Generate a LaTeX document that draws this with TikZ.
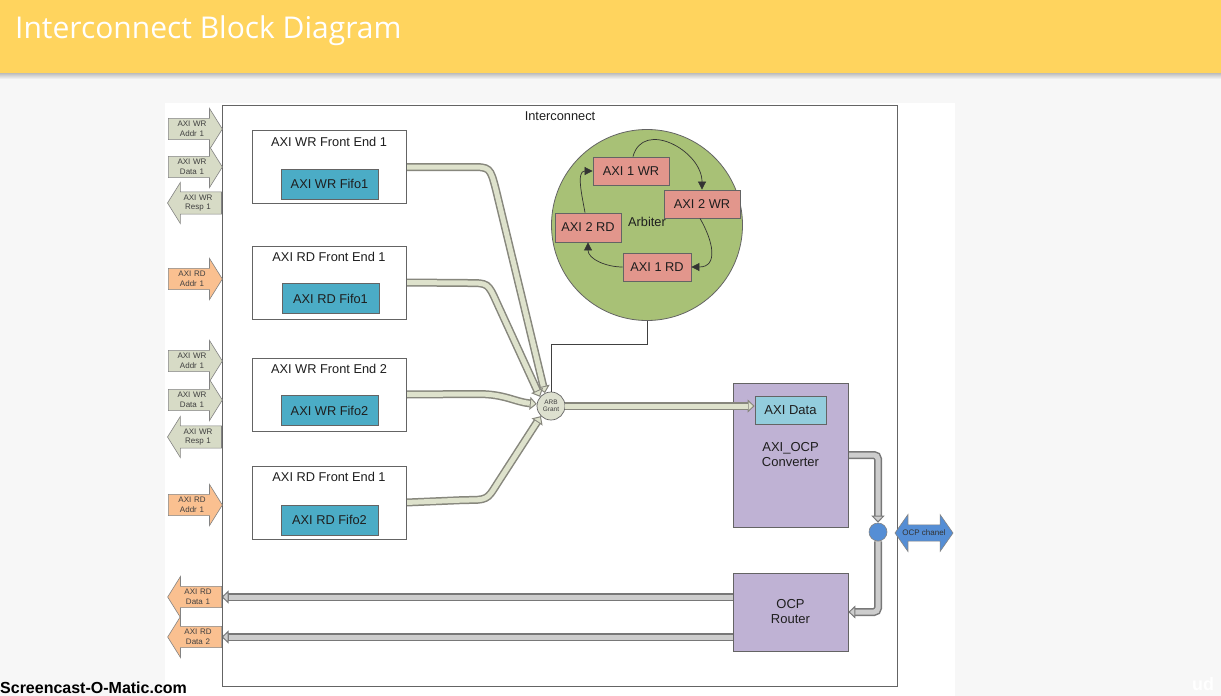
\documentclass[tikz,border=0pt]{standalone}
\usepackage{fontspec}
\setmainfont{Liberation Sans}
\newfontfamily\titlefont{Open Sans}
\usetikzlibrary{arrows.meta,shapes.arrows,calc,backgrounds}
\newcommand\fsz[2]{\fontsize{#1pt}{#2pt}\selectfont}
\definecolor{pagebg}{RGB}{247,247,247}
\definecolor{headerY}{RGB}{255,212,94}
\definecolor{boxline}{RGB}{100,100,100}
\definecolor{fifoC}{RGB}{75,172,198}
\definecolor{arbG}{RGB}{168,193,118}
\definecolor{arbBox}{RGB}{226,150,140}
\definecolor{purpleC}{RGB}{191,178,212}
\definecolor{dataC}{RGB}{147,205,221}
\definecolor{blueC}{RGB}{85,142,213}
\definecolor{arrG}{RGB}{215,219,198}
\definecolor{arrO}{RGB}{250,192,144}
\definecolor{grantC}{RGB}{221,224,207}
\definecolor{fatGin}{RGB}{222,226,204}
\definecolor{fatGout}{RGB}{135,135,125}
\definecolor{fatKin}{RGB}{205,205,205}
\definecolor{fatKout}{RGB}{120,120,120}
\definecolor{txt}{RGB}{30,30,30}
\pgfdeclarelayer{bgzero}
\pgfsetlayers{bgzero,background,main}
\begin{document}
\begin{tikzpicture}[x=1pt,y=-1pt,
  box/.style={draw=boxline, line width=0.8pt, inner sep=0pt, text=txt},
  fe/.style={box, fill=white, minimum width=154pt, minimum height=73pt},
  fifo/.style={box, fill=fifoC, minimum width=97pt, minimum height=30pt, font=\fsz{12.8}{14}},
  lbl/.style={inner sep=0pt, text=txt, font=\fsz{12.8}{14}},
  abox/.style={box, fill=arbBox, minimum height=28pt, font=\fsz{12.8}{14}},
  rarrow/.style={single arrow, draw=boxline!80, line width=0.6pt, fill=arrG,
    minimum height=54pt, minimum width=41pt, single arrow head extend=9.5pt,
    single arrow tip angle=116, inner xsep=1pt, inner ysep=2.5pt,
    text width=36pt, align=center, text=black!75, font=\fsz{8}{9.5}},
  larrow/.style={rarrow, shape border rotate=180},
  orng/.style={fill=arrO},
  arcline/.style={draw=black!80, line width=0.7pt, -{Triangle[length=8pt,width=8pt]}},
  thinline/.style={draw=black!75, line width=0.7pt},
  fatGo/.style={draw=fatGout, line width=8pt},
  fatGi/.style={draw=fatGin, line width=5pt},
  fatKo/.style={draw=fatKout, line width=8pt},
  fatKi/.style={draw=fatKin, line width=5pt},
  tipG/.style={-{Triangle[width=13pt,length=7pt,fill=fatGin,line width=1pt]}},
  tipK/.style={-{Triangle[width=13pt,length=7pt,fill=fatKin,line width=1pt]}},
  shin/.style={shorten >=7pt}
]
\useasboundingbox (0,0) rectangle (1221,696);
\begin{pgfonlayer}{bgzero}
  \fill[pagebg] (0,0) rectangle (1221,696);
  \fill[white] (165,103) rectangle (955,696);
  \fill[top color=black!30, bottom color=pagebg] (0,72) rectangle (1221,79);
  \fill[headerY] (0,0) rectangle (1221,73);
\end{pgfonlayer}
\node[anchor=base west, inner sep=0pt, text=white, font=\titlefont\fsz{30}{32}] (title) at (15,38) {Interconnect Block Diagram};

% interconnect frame
\node[box, minimum width=675pt, minimum height=581pt] (ic) at (559.5,395.5) {};
\node[lbl] (iclabel) at (560,116) {Interconnect};

% front ends
\node[fe] (fe1) at (329,167) {};
\node[lbl] (fe1t) at ($(fe1.north)+(0,11.5)$) {AXI WR Front End 1};
\node[fifo] (ff1) at (329.5,184) {AXI WR Fifo1};
\node[fe] (fe2) at (329,282.5) {};
\node[lbl] (fe2t) at ($(fe2.north)+(0,11.5)$) {AXI RD Front End 1};
\node[fifo] (ff2) at (330.5,298.5) {AXI RD Fifo1};
\node[fe] (fe3) at (329,394.5) {};
\node[lbl] (fe3t) at ($(fe3.north)+(0,11.5)$) {AXI WR Front End 2};
\node[fifo] (ff3) at (329.5,410.5) {AXI WR Fifo2};
\node[fe] (fe4) at (329,502.5) {};
\node[lbl] (fe4t) at ($(fe4.north)+(0,11.5)$) {AXI RD Front End 1};
\node[fifo] (ff4) at (329.5,520) {AXI RD Fifo2};

% left port arrows
\node[rarrow] (wa1) at (192,129) {AXI WR\\Addr 1};
\node[rarrow] (wd1) at (192,167) {AXI WR\\Data 1};
\node[larrow] (wr1) at (198,203) {AXI WR\\Resp 1};
\node[rarrow, orng] (ra1) at (192,279) {AXI RD\\Addr 1};
\node[rarrow] (wa2) at (192,361) {AXI WR\\Addr 1};
\node[rarrow] (wd2) at (192,400) {AXI WR\\Data 1};
\node[larrow] (wr2) at (198,437) {AXI WR\\Resp 1};
\node[rarrow, orng] (ra2) at (192,505) {AXI RD\\Addr 1};
\node[larrow, orng] (rd1) at (198,597) {AXI RD\\Data 1};
\node[larrow, orng] (rd2) at (198,637) {AXI RD\\Data 2};

% arbiter
\node[circle, draw=boxline, line width=0.8pt, fill=arbG, minimum size=191pt, inner sep=0pt] (arbiter) at (647,225) {};
\node[lbl] (arbt) at (647,222) {Arbiter};
\node[abox, minimum width=76pt] (a1wr) at (631,171) {AXI 1 WR};
\node[abox, minimum width=76pt] (a2wr) at (702,204) {AXI 2 WR};
\node[abox, minimum width=66pt, minimum height=29pt] (a2rd) at (588,227.5) {AXI 2 RD};
\node[abox, minimum width=68pt] (a1rd) at (657,267) {AXI 1 RD};
\draw[arcline] ($(a1wr.north)+(2,0)$) to[out=75,in=90,looseness=1.3] (a2wr.north);
\draw[arcline] ($(a2wr.south)+(-2,0)$) to[out=-60,in=0,looseness=1.4] (a1rd.east);
\draw[arcline] (a1rd.west) to[out=180,in=-90] (a2rd.south);
\draw[arcline] ($(a2rd.north)+(-3,0)$) to[out=100,in=180] (a1wr.west);

% ARB grant
\node[circle, draw=boxline, line width=0.7pt, fill=grantC, minimum size=28pt, inner sep=0pt, align=center, text=black!75, font=\fsz{6.5}{7.5}] (arb) at (551,406) {ARB\\Grant};
\draw[thinline] (arbiter.south) -- ++(0,23) -| (arb.north);

% converter and router
\node[box, fill=purpleC, minimum width=115pt, minimum height=144pt, align=center, font=\fsz{13}{15}] (conv) at (790.5,455) {AXI\_OCP\\Converter};
\node[box, fill=dataC, minimum width=71pt, minimum height=28pt, font=\fsz{13}{15}] (axid) at (790.5,410) {AXI Data};
\node[box, fill=purpleC, minimum width=115pt, minimum height=78pt, align=center, font=\fsz{13}{15}] (router) at (790.5,612) {OCP\\Router};
\node[circle, draw=boxline!80, line width=0.6pt, fill=blueC, minimum size=18pt, inner sep=0pt] (circ) at (878,532) {};
\node[double arrow, draw=boxline!80, line width=0.6pt, fill=blueC, minimum height=58pt, minimum width=37pt,
  double arrow head extend=8pt, double arrow tip angle=110, inner xsep=1pt, inner ysep=3pt,
  text=black!80, font=\fsz{8}{9}] (ocp) at (924,533) {OCP chanel};

% fat connector into AXI Data (drawn above the converter)
\draw[fatGo, tipG] (arb.east) -- (arb.east -| axid.west);
\draw[fatGi, shin] (arb.east) -- (arb.east -| axid.west);

% fat connectors
\begin{pgfonlayer}{background}
\draw[fatGo, tipG] (fe1.east) -- (470,167) .. controls (490,167) .. (496,190) -- (arb.115);
\draw[fatGi, shin] (fe1.east) -- (470,167) .. controls (490,167) .. (496,190) -- (arb.115);
\draw[fatGo, tipG] (fe2.east) -- (468,283) .. controls (488,283) .. (497,303) -- (arb.140);
\draw[fatGi, shin] (fe2.east) -- (468,283) .. controls (488,283) .. (497,303) -- (arb.140);
\draw[fatGo, tipG] (fe3.east) -- (478,394) .. controls (505,394) and (515,402) .. (arb.172);
\draw[fatGi, shin] (fe3.east) -- (478,394) .. controls (505,394) and (515,402) .. (arb.172);
\draw[fatGo, tipG] (fe4.east) -- (465,500) .. controls (487,500) .. (497,484) -- (arb.225);
\draw[fatGi, shin] (fe4.east) -- (465,500) .. controls (487,500) .. (497,484) -- (arb.225);
\draw[fatKo, tipK, rounded corners=4pt] (conv.east) -| (circ.north);
\draw[fatKi, shin, rounded corners=4pt] (conv.east) -| (circ.north);
\draw[fatKo, tipK, rounded corners=4pt] (circ.south) |- (router.east);
\draw[fatKi, shin, rounded corners=4pt] (circ.south) |- (router.east);
\draw[fatKo, tipK] (router.west |- rd1) -- (rd1 -| ic.west);
\draw[fatKi, shin] (router.west |- rd1) -- (rd1 -| ic.west);
\draw[fatKo, tipK] (router.west |- rd2) -- (rd2 -| ic.west);
\draw[fatKi, shin] (router.west |- rd2) -- (rd2 -| ic.west);
\end{pgfonlayer}

% watermarks
\node[anchor=base west, inner sep=0pt, font=\bfseries\fsz{16}{16}, text=black] (sc) at (0,693) {Screencast-O-Matic.com};
\node[anchor=base west, inner sep=0pt, font=\bfseries\fsz{18}{18}, text=white] (ud) at (1192,690) {ud};
\end{tikzpicture}
\end{document}
